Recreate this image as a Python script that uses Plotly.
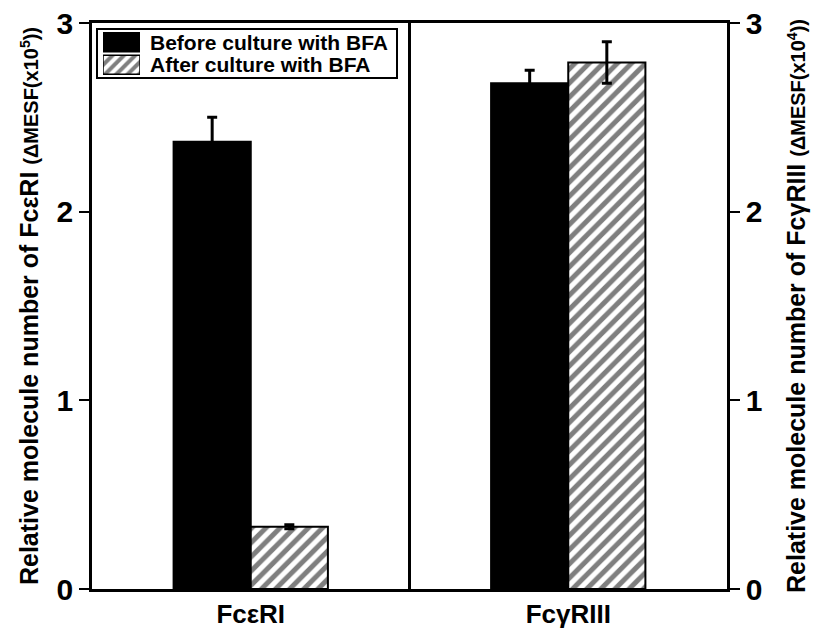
import plotly.graph_objects as go

# Receptor groups and their positions on the x axis
receptors = ["FcεRI", "FcγRIII"]
positions = [0.5, 1.5]

# Relative molecule numbers (ΔMESF) before / after BFA culture
before_values = [2.37, 2.68]
before_errors = [0.13, 0.07]
after_values = [0.33, 2.79]
after_errors = [0.01, 0.11]

series_names = ["Before culture with BFA", "After culture with BFA"]
y_ticks = [0, 1, 2, 3]

FONT = "Liberation Sans, Arial, Helvetica, sans-serif"

# plot-area geometry in pixels (used for paper-coordinate placement of the legend box)
W, H = 819, 629
L, R, T, B = 92, 92, 23, 40
PW, PH = W - L - R, H - T - B


def px_x(px):
    return (px - L) / PW


def px_y(py):
    return (H - B - py) / PH


hatch = dict(shape="/", fgcolor="black", bgcolor="white", size=10, solidity=0.5)

fig = go.Figure()

fig.add_trace(go.Bar(
    x=positions, y=before_values, name=series_names[0],
    marker=dict(color="black", line=dict(color="black", width=2)),
    error_y=dict(type="data", array=before_errors, visible=True,
                 color="black", thickness=3, width=5),
    showlegend=False,
))
fig.add_trace(go.Bar(
    x=positions, y=after_values, name=series_names[1],
    marker=dict(color="white", pattern=hatch, line=dict(color="black", width=2)),
    error_y=dict(type="data", array=after_errors, visible=True,
                 color="black", thickness=3, width=5),
    showlegend=False,
))

# legend swatches drawn as bars on a tiny inset axis
fig.add_trace(go.Bar(
    x=[1], y=[1], orientation="h", xaxis="x3", yaxis="y3", width=0.85,
    marker=dict(color="black", line=dict(color="black", width=1.5)),
    showlegend=False, hoverinfo="skip",
))
fig.add_trace(go.Bar(
    x=[1], y=[0], orientation="h", xaxis="x3", yaxis="y3", width=0.85,
    marker=dict(color="white", pattern=dict(hatch, size=8), line=dict(color="black", width=1.5)),
    showlegend=False, hoverinfo="skip",
))

tickfont = dict(family=FONT, size=30, color="black", weight="bold")

fig.update_layout(
    width=W, height=H,
    margin=dict(l=L, r=R, t=T, b=B, pad=0),
    paper_bgcolor="white", plot_bgcolor="white",
    barmode="group", bargap=0.514, bargroupgap=0,
    font=dict(family=FONT, color="black"),
    xaxis=dict(
        range=[0, 2], tickvals=positions, ticktext=receptors,
        tickfont=dict(family=FONT, size=26, color="black", weight="bold"),
        ticks="", showgrid=False, zeroline=False,
        showline=True, linecolor="black", linewidth=2.5, mirror=True,
        automargin=False,
    ),
    yaxis=dict(
        range=[0, 3], tickvals=y_ticks, ticks="outside", ticklen=10,
        tickwidth=2, tickcolor="black", tickfont=tickfont,
        showgrid=False, zeroline=False,
        showline=True, linecolor="black", linewidth=2.5,
        title=dict(
            text="Relative molecule number of FcεRI <span style='font-size:20px'>(ΔMESF(x10<sup>5</sup>))</span>",
            font=dict(family=FONT, size=25, color="black", weight="bold"),
            standoff=11,
        ),
        automargin=False,
    ),
    yaxis2=dict(
        range=[0, 3], tickvals=y_ticks, ticks="outside", ticklen=10,
        tickwidth=2, tickcolor="black", tickfont=tickfont,
        overlaying="y", side="right", anchor="x",
        showgrid=False, zeroline=False,
        showline=True, linecolor="black", linewidth=2.5,
        title=dict(
            text="Relative molecule number of FcγRIII <span style='font-size:20px'>(ΔMESF(x10<sup>4</sup>))</span>",
            font=dict(family=FONT, size=25, color="black", weight="bold"),
            standoff=27,
        ),
        automargin=False,
    ),
    xaxis3=dict(domain=[px_x(103), px_x(140)], range=[0, 1], visible=False, fixedrange=True),
    yaxis3=dict(domain=[px_y(76), px_y(31)], range=[-0.5, 1.5], visible=False, fixedrange=True),
    shapes=[
        # divider between the two receptor panels
        dict(type="line", xref="x", yref="paper", x0=1, x1=1, y0=0, y1=1,
             line=dict(color="black", width=3)),
        # legend frame
        dict(type="rect", xref="paper", yref="paper",
             x0=px_x(97), x1=px_x(397), y0=px_y(78), y1=px_y(29),
             line=dict(color="black", width=2), fillcolor="white", layer="below"),
    ],
    annotations=[
        dict(text=series_names[0], xref="paper", yref="paper", x=px_x(148), y=px_y(42),
             xanchor="left", yanchor="middle", showarrow=False,
             font=dict(family=FONT, size=21, color="black", weight="bold")),
        dict(text=series_names[1], xref="paper", yref="paper", x=px_x(148), y=px_y(65),
             xanchor="left", yanchor="middle", showarrow=False,
             font=dict(family=FONT, size=21, color="black", weight="bold")),
    ],
)

# invisible trace so the right-hand axis is bound to data
fig.add_trace(go.Scatter(x=[None], y=[None], yaxis="y2", showlegend=False, hoverinfo="skip"))

fig.write_html("out.html", config=dict(displayModeBar=False))
